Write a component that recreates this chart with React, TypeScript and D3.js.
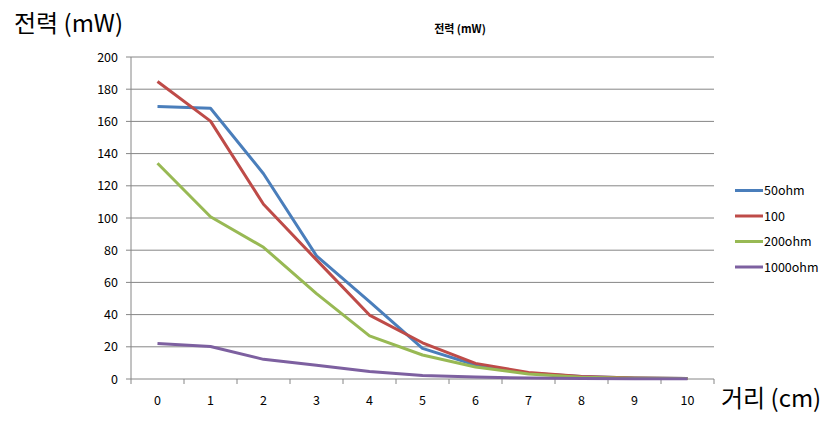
import React from "react";
import * as d3 from "d3";

const categories = ["0", "1", "2", "3", "4", "5", "6", "7", "8", "9", "10"];
const seriesNames = ["50ohm", "100", "200ohm", "1000ohm"];
const s50 = [169.2, 168.2, 127.5, 76.5, 48, 19, 8.7, 3.6, 1.5, 0.6, 0.3];
const s100 = [184.8, 160.2, 108.5, 74, 39.7, 22.5, 9.7, 4.1, 1.6, 0.6, 0.3];
const s200 = [134, 100.8, 81.8, 53, 26.8, 14.9, 7.4, 3.1, 1.1, 0.5, 0.3];
const s1000 = [22, 20.2, 12.2, 8.6, 4.6, 2.1, 1.2, 0.6, 0.3, 0.2, 0.1];
const yTicks = [0, 20, 40, 60, 80, 100, 120, 140, 160, 180, 200];
const colors = ["#4a7ebb", "#be4b48", "#98b954", "#7d60a0"];

const W = 839;
const H = 425;
const left = 131;
const right = 714;
const top = 57;
const bottom = 379;
const FONT = "'Noto Sans CJK KR', 'Noto Sans', sans-serif";
const GRID = "#868686";

export default function App() {
  const x = d3.scaleBand<string>().domain(categories).range([left, right]).padding(0);
  const y = d3.scaleLinear().domain([0, 200]).range([bottom, top]);
  const allSeries = [s50, s100, s200, s1000];
  const line = d3
    .line<number>()
    .x((_, i) => (x(categories[i]) as number) + x.bandwidth() / 2)
    .y((d) => y(d));
  const tickXs = categories.map((c) => x(c) as number).concat([right]);

  return (
    <svg
      width={W}
      height={H}
      style={{ position: "absolute", left: 0, top: 0, background: "#fff" }}
      fontFamily={FONT}
    >
      <rect width={W} height={H} fill="#fff" />
      <text x={14} y={32} fontSize={24} fill="#000">전력 (mW)</text>
      <text x={460} y={33} fontSize={11} fontWeight="bold" textAnchor="middle" fill="#000">
        전력 (mW)
      </text>
      {yTicks.map((t) => (
        <g key={t}>
          <line x1={left - 5} x2={right} y1={y(t)} y2={y(t)} stroke={GRID} strokeWidth={1} />
          <text x={118} y={y(t) + 4.5} fontSize={12.5} textAnchor="end" fill="#000">
            {t}
          </text>
        </g>
      ))}
      <line x1={left} x2={left} y1={top} y2={bottom} stroke={GRID} strokeWidth={1} />
      {tickXs.map((tx, i) => (
        <line key={i} x1={tx} x2={tx} y1={bottom} y2={bottom + 5} stroke={GRID} strokeWidth={1} />
      ))}
      {categories.map((c) => (
        <text
          key={c}
          x={(x(c) as number) + x.bandwidth() / 2}
          y={405}
          fontSize={12.5}
          textAnchor="middle"
          fill="#000"
        >
          {c}
        </text>
      ))}
      <text x={721} y={407} fontSize={24} fill="#000">거리 (cm)</text>
      {allSeries.map((s, i) => (
        <path
          key={i}
          d={line(s) as string}
          fill="none"
          stroke={colors[i]}
          strokeWidth={3}
          strokeLinejoin="round"
        />
      ))}
      {seriesNames.map((n, i) => {
        const ly = 190.5 + i * 25.5;
        return (
          <g key={n}>
            <line x1={735} x2={763} y1={ly} y2={ly} stroke={colors[i]} strokeWidth={3} />
            <text x={764} y={ly + 4.5} fontSize={12.5} fill="#000">
              {n}
            </text>
          </g>
        );
      })}
    </svg>
  );
}
